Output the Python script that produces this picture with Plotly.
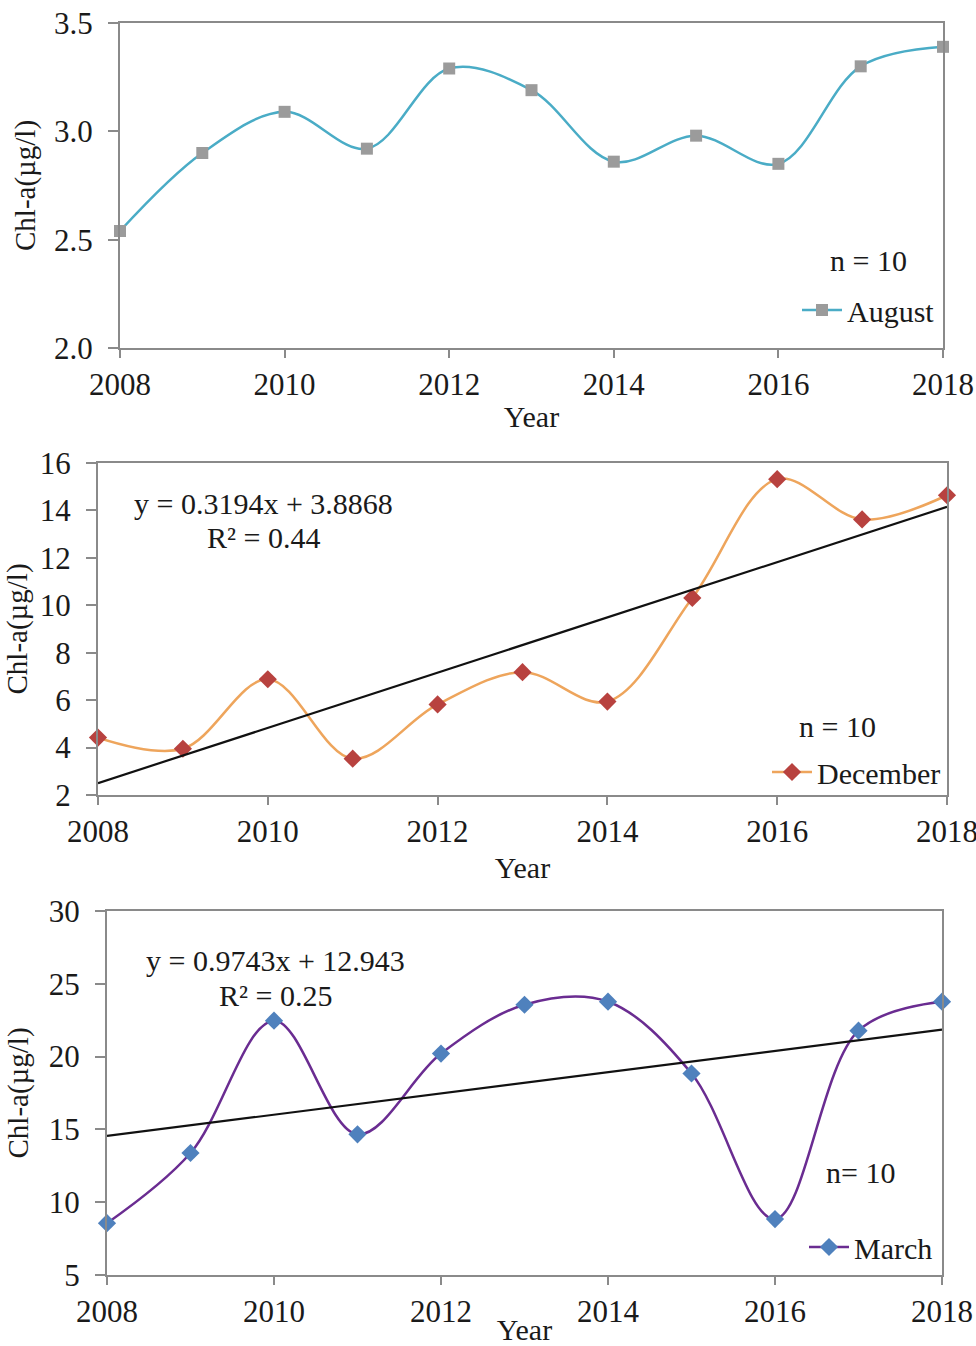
import plotly.graph_objects as go

years = [2008, 2009, 2010, 2011, 2012, 2013, 2014, 2015, 2016, 2017, 2018]
august = [2.54, 2.90, 3.09, 2.92, 3.29, 3.19, 2.86, 2.98, 2.85, 3.30, 3.39]
december = [4.42, 3.95, 6.88, 3.53, 5.82, 7.18, 5.94, 10.31, 15.32, 13.62, 14.64]
march = [8.56, 13.38, 22.47, 14.66, 20.21, 23.56, 23.77, 18.84, 8.84, 21.78, 23.77]

trend_years = [2008, 2018]
december_trend = [2.50, 14.15]
march_trend = [14.55, 21.85]

x_ticks = [2008, 2010, 2012, 2014, 2016, 2018]
y_title = "Chl-a(µg/l)"
dec_eq = ["y = 0.3194x + 3.8868", "R² = 0.44"]
mar_eq = ["y = 0.9743x + 12.943", "R² = 0.25"]
n_labels = ["n = 10", "n = 10", "n= 10"]

FONT = "Liberation Serif"
FS = 30
TFS = 31
AX = "#8a8a8a"
TXT = "#1a1a1a"

W, H = 976, 1346


def px_x(p):
    return p / W


def px_y(p):
    return 1 - p / H


fig = go.Figure()

# August
fig.add_trace(go.Scatter(
    x=years, y=august, mode="lines+markers", name="August",
    line=dict(color="#4aacc6", width=2.5, shape="spline", smoothing=1.0),
    marker=dict(symbol="square", size=12, color="#9b9b9b"),
    xaxis="x", yaxis="y", legend="legend", cliponaxis=False))

# December
fig.add_trace(go.Scatter(
    x=years, y=december, mode="lines+markers", name="December",
    line=dict(color="#eea55c", width=2.5, shape="spline", smoothing=1.0),
    marker=dict(symbol="diamond", size=14, color="#b8423f"),
    xaxis="x2", yaxis="y2", legend="legend2", cliponaxis=False))
fig.add_trace(go.Scatter(
    x=trend_years, y=december_trend, mode="lines", showlegend=False,
    line=dict(color="#111111", width=2.2), xaxis="x2", yaxis="y2"))

# March
fig.add_trace(go.Scatter(
    x=years, y=march, mode="lines+markers", name="March",
    line=dict(color="#6a2c91", width=2.5, shape="spline", smoothing=1.0),
    marker=dict(symbol="diamond", size=14, color="#4f81bd"),
    xaxis="x3", yaxis="y3", legend="legend3", cliponaxis=False))
fig.add_trace(go.Scatter(
    x=trend_years, y=march_trend, mode="lines", showlegend=False,
    line=dict(color="#111111", width=2.2), xaxis="x3", yaxis="y3"))

panels = [
    # (x0, x1, ytop, ybottom, yrange, dtick, tickformat, ytitle_standoff, xtitle_standoff)
    (120, 943, 23, 348, [2, 3.5], 0.5, ".1f", 10, 5),
    (98, 947, 463, 795, [2, 16], 2, "d", 4, 9),
    (107, 942, 911, 1275, [5, 30], 5, "d", 12, 0),
]

layout = dict(
    width=W, height=H, margin=dict(l=0, r=0, t=0, b=0, autoexpand=False),
    paper_bgcolor="white", plot_bgcolor="white",
    font=dict(family=FONT, size=FS, color=TXT),
    showlegend=True,
)

for i, (x0, x1, yt, yb, yr, dt, tf, ys, xs) in enumerate(panels):
    sx = "" if i == 0 else str(i + 1)
    layout["xaxis" + sx] = dict(
        domain=[px_x(x0), px_x(x1)], range=[2008, 2018], anchor="y" + sx,
        tickvals=x_ticks, ticks="outside", ticklen=8, tickcolor=AX, tickwidth=1.5,
        showline=True, linecolor=AX, linewidth=2, mirror=True, showgrid=False,
        zeroline=False, tickfont=dict(family=FONT, size=TFS), automargin=False,
        ticklabeloverflow="allow",
        title=dict(text="Year", font=dict(family=FONT, size=FS), standoff=xs),
    )
    layout["yaxis" + sx] = dict(
        domain=[px_y(yb), px_y(yt)], range=yr, anchor="x" + sx,
        dtick=dt, tick0=yr[0], tickformat=tf, ticks="outside", ticklen=10,
        tickcolor=AX, tickwidth=1.5, showline=True, linecolor=AX, linewidth=2,
        mirror=True, showgrid=False, zeroline=False, automargin=False,
        tickfont=dict(family=FONT, size=TFS), ticklabelstandoff=9,
        ticklabeloverflow="allow",
        title=dict(text=y_title, font=dict(family=FONT, size=FS - 1), standoff=ys),
    )

leg_common = dict(bgcolor="rgba(0,0,0,0)", font=dict(family=FONT, size=FS),
                  xanchor="right", yanchor="middle", itemwidth=40)
layout["legend"] = dict(leg_common, x=px_x(940), y=px_y(310))
layout["legend2"] = dict(leg_common, x=px_x(946), y=px_y(772))
layout["legend3"] = dict(leg_common, x=px_x(938), y=px_y(1247))

annotations = []
n_pos = [(868, 261), (837, 726), (860, 1172)]
for txt, (ax_, ay_) in zip(n_labels, n_pos):
    annotations.append(dict(text=txt, x=px_x(ax_), y=px_y(ay_), xref="paper", yref="paper",
                            showarrow=False, xanchor="center", yanchor="middle",
                            font=dict(family=FONT, size=FS)))
for lines, (cx, cy1, cy2) in [(dec_eq, (263, 503, 537)), (mar_eq, (275, 960, 995))]:
    annotations.append(dict(text=lines[0], x=px_x(cx), y=px_y(cy1), xref="paper", yref="paper",
                            showarrow=False, xanchor="center", yanchor="middle",
                            font=dict(family=FONT, size=FS)))
    annotations.append(dict(text=lines[1], x=px_x(cx), y=px_y(cy2), xref="paper", yref="paper",
                            showarrow=False, xanchor="center", yanchor="middle",
                            font=dict(family=FONT, size=FS)))
layout["annotations"] = annotations

fig.update_layout(**layout)
fig.write_html("out.html", config={"displayModeBar": False},
               post_script="document.body.style.margin='0';document.body.style.padding='0';")
